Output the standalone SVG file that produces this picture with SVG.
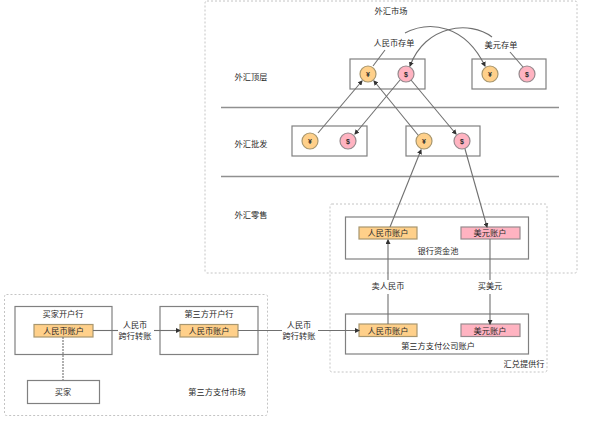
<svg xmlns="http://www.w3.org/2000/svg" width="596" height="422" viewBox="0 0 596 422">
<style>
text{font-family:"Noto Sans CJK SC","Liberation Sans",sans-serif;font-size:8.2px;fill:#2a2a2a;text-anchor:middle}
.zone{fill:none;stroke:#c4c4c4;stroke-width:1;stroke-dasharray:2 2}
.box{fill:#fff;stroke:#808080;stroke-width:1.2}
.cny{fill:#ffd08a;stroke:#a8976f;stroke-width:1.2}
.usd{fill:#ffb3c1;stroke:#968a8e;stroke-width:1.2}
.line{fill:none;stroke:#707070;stroke-width:1.1}
.arrow{marker-end:url(#a)}
.sep{stroke:#909090;stroke-width:1.4}
.sym{font-family:"Liberation Sans",sans-serif;font-weight:bold;font-size:7px}
</style>
<defs><marker id="a" markerWidth="5" markerHeight="5" refX="4" refY="2.500" orient="auto" markerUnits="userSpaceOnUse"><path d="M0 0L5 2.500L0 5z" fill="#333"/></marker></defs>
<rect width="596" height="422" fill="#fff"/>
<g id="zones">
<rect class="zone" x="205" y="1" width="372" height="272" rx="2"/>
<rect class="zone" x="330" y="204" width="217" height="168" rx="2"/>
<rect class="zone" x="4.500" y="294.500" width="263" height="121" rx="2"/>
<line class="sep" x1="221" y1="107.500" x2="559" y2="107.500"/>
<line class="sep" x1="221" y1="176.500" x2="559" y2="176.500"/>
<text x="391" y="13.500">外汇市场</text>
<text x="251" y="80">外汇顶层</text>
<text x="251" y="147">外汇批发</text>
<text x="251" y="218">外汇零售</text>
<text x="217" y="395">第三方支付市场</text>
<text x="524" y="367">汇兑提供行</text>
</g>
<g id="top-1"><rect class="box" x="350" y="59" width="75" height="30"/>
<circle class="cny" cx="368" cy="74" r="8"/><text class="sym" x="368" y="76.500">¥</text>
<circle class="usd" cx="406" cy="74" r="8"/><text class="sym" x="406" y="76.500">$</text></g>
<g id="top-2"><rect class="box" x="472" y="59" width="74" height="30"/>
<circle class="cny" cx="490" cy="74" r="8"/><text class="sym" x="490" y="76.500">¥</text>
<circle class="usd" cx="527" cy="74" r="8"/><text class="sym" x="527" y="76.500">$</text></g>
<g id="wholesale-1"><rect class="box" x="292" y="126" width="75" height="30"/>
<circle class="cny" cx="310" cy="141" r="8"/><text class="sym" x="310" y="143.500">¥</text>
<circle class="usd" cx="348" cy="141" r="8"/><text class="sym" x="348" y="143.500">$</text></g>
<g id="wholesale-2"><rect class="box" x="406" y="126" width="74" height="30"/>
<circle class="cny" cx="424" cy="141" r="8"/><text class="sym" x="424" y="143.500">¥</text>
<circle class="usd" cx="462" cy="141" r="8"/><text class="sym" x="462" y="143.500">$</text></g>
<g id="bank-pool"><rect class="box" x="345.500" y="217" width="183" height="42"/>
<rect class="cny" x="359" y="227" width="58" height="12"/><text x="388" y="236">人民币账户</text>
<rect class="usd" x="461" y="227" width="59" height="12"/><text x="490" y="236">美元账户</text>
<text x="438" y="254">银行资金池</text></g>
<g id="third-party-account"><rect class="box" x="345.500" y="314" width="183" height="40"/>
<rect class="cny" x="359" y="324" width="58" height="12.500"/><text x="388" y="333.500">人民币账户</text>
<rect class="usd" x="461" y="324" width="59" height="12.500"/><text x="490" y="333.500">美元账户</text>
<text x="438" y="349">第三方支付公司账户</text></g>
<g id="buyer-bank"><rect class="box" x="15" y="306.500" width="97" height="48"/>
<text x="63" y="317">买家开户行</text>
<rect class="cny" x="34" y="324.500" width="59" height="12.500"/><text x="63.500" y="334">人民币账户</text></g>
<g id="third-party-bank"><rect class="box" x="160" y="306.500" width="98" height="48"/>
<text x="209" y="317">第三方开户行</text>
<rect class="cny" x="180" y="324.500" width="58" height="12.500"/><text x="209" y="334">人民币账户</text></g>
<g id="buyer"><rect class="box" x="27.500" y="380.500" width="72" height="23"/><text x="63" y="395">买家</text></g>
<g id="connectors">
<path class="line" d="M385 50L373 66"/>
<path class="line" d="M510 52L523 67"/>
<path class="line arrow" d="M405 33C430 20 465 25 485 66"/>
<path class="line arrow" d="M492 37C470 20 425 25 410 66"/>
<path class="line arrow" d="M318 133L362 81"/>
<path class="line arrow" d="M400 80L355 134"/>
<path class="line arrow" d="M418 135L374 81"/>
<path class="line arrow" d="M411 80L456 134"/>
<path class="line arrow" d="M390 227L421 150"/>
<path class="line arrow" d="M465 149L487 227"/>
<path class="line" d="M388 324V294"/><path class="line arrow" d="M388 280V240"/>
<path class="line" d="M490 239V280"/><path class="line arrow" d="M490 294V324"/>
<path class="line" stroke-dasharray="2 1" d="M63 337V380"/>
<path class="line" d="M93 330.500H118"/><path class="line arrow" d="M154 330.500H180"/>
<path class="line" d="M238 330.500H282"/><path class="line arrow" d="M318 330.500H359"/>
<text x="135" y="328">人民币</text><text x="135" y="339">跨行转账</text>
<text x="299" y="328">人民币</text><text x="299" y="339">跨行转账</text>
<text x="388" y="289">卖人民币</text>
<text x="490" y="289">买美元</text>
<text x="394" y="46">人民币存单</text>
<text x="501" y="48">美元存单</text>
</g>
</svg>
